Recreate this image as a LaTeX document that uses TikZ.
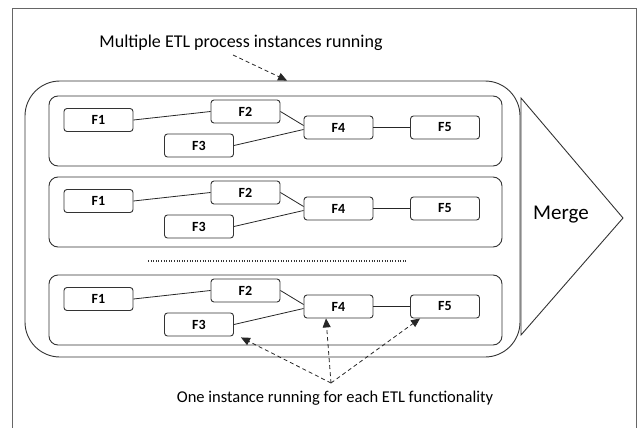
\documentclass[tikz,border=0pt]{standalone}
\usepackage{fontspec}
\setmainfont{Carlito}
\usetikzlibrary{arrows.meta}
\begin{document}
\begin{tikzpicture}[x=1pt,y=-1pt,
  fn/.style={draw=black!80, line width=0.9pt, rounded corners=3pt, minimum width=69pt, minimum height=23pt, inner sep=0pt, font=\fontsize{14}{16}\selectfont\bfseries},
  inst/.style={draw=black!80, line width=0.9pt, rounded corners=9pt, minimum width=453pt, minimum height=70pt, inner sep=0pt},
  link/.style={draw=black!85, line width=0.8pt},
  note/.style={font=\fontsize{17}{20}\selectfont, inner sep=0pt},
  darr/.style={draw=black!85, line width=0.8pt, dash pattern=on 4pt off 3pt, -{Triangle[length=9pt,width=8pt]}}
]
\useasboundingbox (0,0) rectangle (637,428);
% frame
\draw[black!60, line width=1pt] (12,440) -- (12,9) -- (636,9) -- (636,440);
% outer container
\node[draw=black!80, line width=0.9pt, rounded corners=35pt, minimum width=495pt, minimum height=276pt, inner sep=0pt] (outer) at (272.5,219) {};
% instances
\foreach \o/\k in {0/a,81/b,179/c}{
  \node[inst] (\k0) at (275.5,131+\o) {};
  \node[fn] (\k1) at (98.5,120+\o) {F1};
  \node[fn] (\k2) at (245.5,111.5+\o) {F2};
  \node[fn] (\k3) at (199,145.5+\o) {F3};
  \node[fn] (\k4) at (338.5,127.5+\o) {F4};
  \node[fn] (\k5) at (445,127.5+\o) {F5};
  \draw[link] (\k1.east) -- (\k2.west);
  \draw[link] (\k2.east) -- ([yshift=2pt]\k4.west);
  \draw[link] (\k3.east) -- ([yshift=-2pt]\k4.west);
  \draw[link] (\k4.east) -- (\k5.west);
}
% dotted separator
\draw[black!80, line width=1.1pt, dash pattern=on 1pt off 1.6pt] (148,261) -- (408,261);
% merge arrow
\coordinate (mt) at (521,98);
\coordinate (ma) at (623,218);
\coordinate (mb) at (521,335);
\draw[black!80, line width=0.9pt] (mt) -- (ma) -- (mb) -- cycle;
\node[font=\fontsize{21}{24}\selectfont, inner sep=0pt] (merge) at (561,215) {Merge};
% top annotation
\node[note, font=\fontsize{18}{20}\selectfont] (top) at (241,43) {Multiple ETL process instances running};
\draw[darr] ([xshift=-8pt,yshift=-4pt]top.south) -- ([xshift=14.5pt]outer.north);
% bottom annotation
\node[note, font=\fontsize{16.5}{20}\selectfont] (bot) at (335,398) {One instance running for each ETL functionality};
\coordinate (conv) at (331,383);
\draw[darr] (conv) -- ([xshift=7pt,yshift=-1pt]c3.south east);
\draw[darr] (conv) -- ([xshift=-12.5pt]c4.south);
\draw[darr] (conv) -- ([xshift=10pt]c5.south west);
\end{tikzpicture}
\end{document}
